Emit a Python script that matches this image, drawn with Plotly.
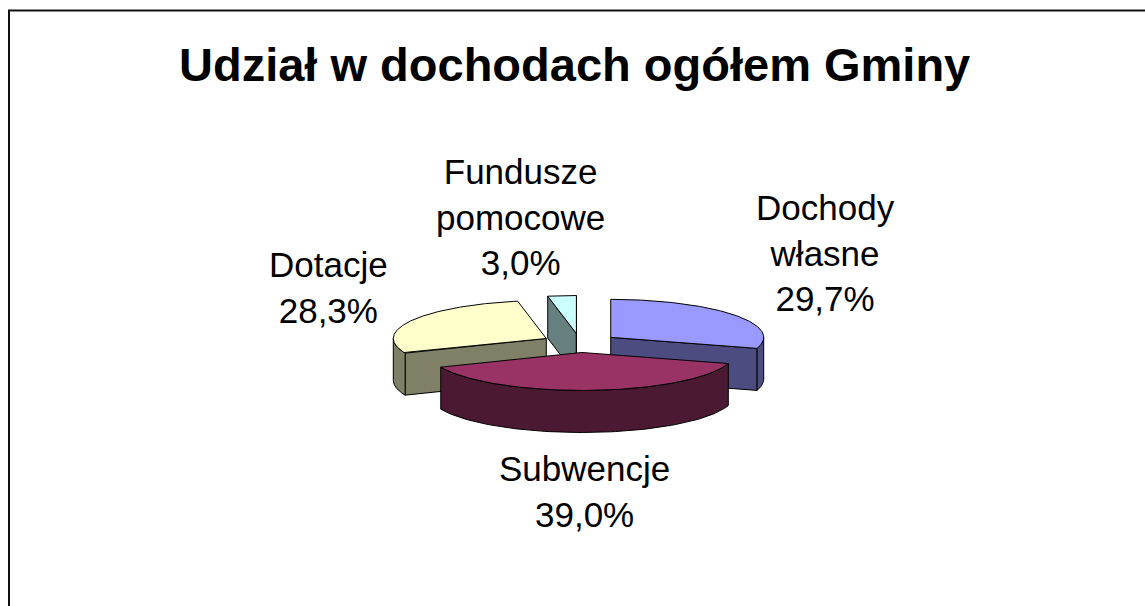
import numpy as np
import plotly.graph_objects as go

# ---- data ----
categories = ["Dochody własne", "Subwencje", "Dotacje", "Fundusze pomocowe"]
label_lines = ["Dochody<br>własne", "Subwencje", "Dotacje", "Fundusze<br>pomocowe"]
values = [29.7, 39.0, 28.3, 3.0]

# ---- styles ----
top_colors = ["#9999FF", "#993366", "#FFFFCC", "#CCFFFF"]
side_colors = ["#4C4C80", "#4C1933", "#808066", "#668080"]
label_pos = [(825, 253), (584, 491), (328, 287), (520, 217)]

W, H = 1145, 606
CX, CY = 580.0, 343.0      # pie centre (pixels)
RX, RY = 153.0, 38.0       # ellipse radii of the tilted pie
DEPTH = 42.0               # thickness of the pie
EXPLODE = 0.25             # explosion as fraction of radius
FONT = "Liberation Sans, Arial, sans-serif"

fig = go.Figure()

total = float(sum(values))
angles = np.concatenate([[0.0], np.cumsum(values) / total * 360.0])

def rim(ax, ay, th_deg):
    t = np.radians(th_deg)
    return ax + RX * np.sin(t), ay - RY * np.cos(t)

def poly(xs, ys, color):
    fig.add_trace(go.Scatter(
        x=list(xs) + [xs[0]], y=list(ys) + [ys[0]], mode="lines",
        fill="toself", fillcolor=color,
        line=dict(color="black", width=1),
        hoverinfo="skip", showlegend=False))

slices = []
for i, v in enumerate(values):
    a, b = angles[i], angles[i + 1]
    m = np.radians((a + b) / 2)
    ax = CX + EXPLODE * RX * np.sin(m)
    ay = CY - EXPLODE * RY * np.cos(m)
    slices.append((ay, i, a, b, ax))

# draw back to front
for ay, i, a, b, ax in sorted(slices):
    side = side_colors[i]
    # radial face at start angle (visible when facing the viewer)
    if np.sin(np.radians(a)) < -1e-9:
        px, py = rim(ax, ay, a)
        poly([ax, px, px, ax], [ay, py, py + DEPTH, ay + DEPTH], side)
    # radial face at end angle
    if np.sin(np.radians(b)) > 1e-9 or b >= 359.999:
        px, py = rim(ax, ay, b)
        poly([ax, px, px, ax], [ay, py, py + DEPTH, ay + DEPTH], side)
    # outer wall (front half only)
    lo, hi = max(a, 90.0), min(b, 270.0)
    if hi > lo:
        th = np.linspace(lo, hi, 80)
        xs, ys = rim(ax, ay, th)
        wx = np.concatenate([xs, xs[::-1]])
        wy = np.concatenate([ys, (ys + DEPTH)[::-1]])
        poly(wx, wy, side)
    # top face
    th = np.linspace(a, b, max(4, int((b - a) * 2)))
    xs, ys = rim(ax, ay, th)
    poly(np.concatenate([[ax], xs]), np.concatenate([[ay], ys]), top_colors[i])

# labels
for i, v in enumerate(values):
    txt = label_lines[i] + "<br>" + f"{v:.1f}".replace(".", ",") + "%"
    lx, ly = label_pos[i]
    fig.add_annotation(x=lx, y=ly, xref="x", yref="y", text=txt,
                       showarrow=False, align="center",
                       xanchor="center", yanchor="middle",
                       font=dict(family=FONT, size=35, color="black"))

# title
fig.add_annotation(x=574, y=64, xref="x", yref="y",
                   text="<b>Udział w dochodach ogółem Gminy</b>",
                   showarrow=False, xanchor="center", yanchor="middle",
                   font=dict(family=FONT, size=47, color="black"))

# chart border (left and top edges visible)
fig.add_shape(type="line", x0=9, y0=10, x1=9, y1=H + 20,
              xref="x", yref="y", line=dict(color="#111111", width=2))
fig.add_shape(type="line", x0=8, y0=10.5, x1=W + 20, y1=10.5,
              xref="x", yref="y", line=dict(color="#111111", width=2))

fig.update_layout(
    width=W, height=H, margin=dict(l=0, r=0, t=0, b=0),
    paper_bgcolor="white", plot_bgcolor="white",
    xaxis=dict(range=[0, W], visible=False, fixedrange=True),
    yaxis=dict(range=[H, 0], visible=False, fixedrange=True),
    showlegend=False,
)

fig.write_html("out.html",
               config={"displayModeBar": False, "staticPlot": True},
               post_script="document.body.style.margin='0';document.body.style.overflow='hidden';")
